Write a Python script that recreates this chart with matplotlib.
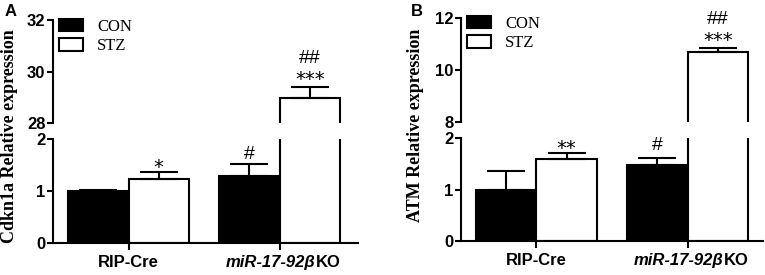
import matplotlib
matplotlib.use("Agg")
import matplotlib.pyplot as plt
from matplotlib.patches import Patch

groups = ["RIP-Cre", "miR-17-92βKO"]
series = ["CON", "STZ"]

# panel A: Cdkn1a
cdkn_con = [1.00, 1.29]
cdkn_con_err = [0.02, 0.23]
cdkn_stz = [1.24, 28.99]
cdkn_stz_err = [0.13, 0.40]
cdkn_marks_con = ["", "#"]
cdkn_marks_stz = ["*", "***"]
cdkn_marks_stz2 = ["", "##"]

# panel B: ATM
atm_con = [1.00, 1.48]
atm_con_err = [0.36, 0.14]
atm_stz = [1.59, 10.68]
atm_stz_err = [0.12, 0.15]
atm_marks_con = ["", "#"]
atm_marks_stz = ["**", "***"]
atm_marks_stz2 = ["", "##"]

SANS = "Liberation Sans"
SERIF = "Liberation Serif"
LW = 1.5
W = 0.4

fig = plt.figure(figsize=(7.65, 2.75), dpi=100)


def style(ax, bottom_spine):
    for s in ["top", "right"]:
        ax.spines[s].set_visible(False)
    ax.spines["left"].set_linewidth(LW)
    if bottom_spine:
        ax.spines["bottom"].set_linewidth(LW)
    else:
        ax.spines["bottom"].set_visible(False)
    ax.tick_params(axis="y", length=4.5, width=LW, pad=1, labelsize=12)
    for t in ax.get_yticklabels():
        t.set_fontfamily(SANS)
        t.set_fontweight("bold")


def mark(ax, x, y, txt, dy):
    if not txt:
        return
    fam = "DejaVu Sans" if "*" in txt else SANS
    ax.annotate(txt, (x, y), xytext=(0, dy), textcoords="offset points",
                ha="center", va="baseline", fontsize=14, family=fam,
                annotation_clip=False)


def panel(rect_top, rect_bot, con, con_err, stz, stz_err, top_lim, top_ticks,
          xlim, m_con, m_stz, m_stz2, ylabel, ylabel_pos, letter, letter_pos,
          leg_pos, offs):
    ax_t = fig.add_axes(rect_top)
    ax_b = fig.add_axes(rect_bot)
    x = [0, 1]
    for ax in (ax_t, ax_b):
        ax.bar([i - W / 2 for i in x], con, W, color="black", edgecolor="black",
               linewidth=LW)
        ax.bar([i + W / 2 for i in x], stz, W, color="white", edgecolor="black",
               linewidth=LW)
        ax.errorbar([i - W / 2 for i in x], con, yerr=[[0, 0], con_err], fmt="none",
                    ecolor="black", elinewidth=LW, capsize=13.5, capthick=LW)
        ax.errorbar([i + W / 2 for i in x], stz, yerr=[[0, 0], stz_err], fmt="none",
                    ecolor="black", elinewidth=LW, capsize=13.5, capthick=LW)
        ax.set_xlim(*xlim)
    ax_b.set_ylim(0, 2)
    ax_b.set_yticks([0, 1, 2])
    ax_t.set_ylim(*top_lim)
    ax_t.set_yticks(top_ticks)
    ax_t.set_xticks([])
    ax_b.set_xticks(x)
    ax_b.set_xticklabels(["", ""])
    ax_b.tick_params(axis="x", length=5, width=LW)
    style(ax_t, False)
    style(ax_b, True)

    # significance marks
    for i in x:
        tc = con[i] + con_err[i]
        ts = stz[i] + stz_err[i]
        ax_c = ax_b if con[i] <= 2 else ax_t
        ax_s = ax_b if stz[i] <= 2 else ax_t
        mark(ax_c, i - W / 2, tc, m_con[i], offs["#"] if ax_c is ax_b else 17.3)
        if ax_s is ax_b:
            mark(ax_s, i + W / 2, ts, m_stz[i], offs["*"])
        else:
            mark(ax_s, i + W / 2, ts, m_stz[i], 1.6)
            mark(ax_s, i + W / 2, ts, m_stz2[i], 17.4)

    # category labels
    ax_b.annotate(groups[0], (0, 0), xycoords=("data", "axes fraction"),
                  xytext=(0, -13.7), textcoords="offset points", ha="center",
                  va="center", fontsize=12, fontweight="bold", family=SANS)
    t1 = ax_b.annotate(groups[1][:-2], (1, 0), xycoords=("data", "axes fraction"),
                       xytext=(26, -13.7), textcoords="offset points", ha="right",
                       va="center", fontsize=12, fontweight="bold",
                       fontstyle="italic", family=SANS)
    ax_b.annotate(groups[1][-2:], (1, 0), xycoords=t1, ha="left", va="bottom",
                  fontsize=12, fontweight="bold", family=SANS)

    fig.text(ylabel_pos[0], ylabel_pos[1], ylabel, rotation=90, ha="center",
             va="center", fontsize=13, fontweight="bold", family=SERIF)
    fig.text(letter_pos[0], letter_pos[1], letter, ha="center", va="center",
             fontsize=12, fontweight="bold", family=SANS)

    handles = [Patch(facecolor="black", edgecolor="black", linewidth=LW),
               Patch(facecolor="white", edgecolor="black", linewidth=LW)]
    fig.legend(handles, series, loc="upper left", bbox_to_anchor=leg_pos,
               frameon=False, prop={"family": SERIF, "size": 12},
               handlelength=1.44, handleheight=0.78, handletextpad=0.84,
               labelspacing=0.2, borderpad=0, borderaxespad=0)


panel([0.0693, 0.5527, 0.3987, 0.3746], [0.0693, 0.1164, 0.3987, 0.3781],
      cdkn_con, cdkn_con_err, cdkn_stz, cdkn_stz_err, (28, 32), [28, 30, 32],
      (-0.5, 1.52), cdkn_marks_con, cdkn_marks_stz, cdkn_marks_stz2,
      "Cdkn1a Relative expression", (0.012, 0.505), "A", (0.014, 0.96),
      (0.0771, 0.932), {"#": 3.7, "*": -0.9})

panel([0.6026, 0.5564, 0.3948, 0.3781], [0.6026, 0.1236, 0.3948, 0.3745],
      atm_con, atm_con_err, atm_stz, atm_stz_err, (8, 12), [8, 10, 12],
      (-0.5, 1.5), atm_marks_con, atm_marks_stz, atm_marks_stz2,
      "ATM Relative expression", (0.5425, 0.545), "B", (0.545, 0.96),
      (0.6105, 0.943), {"#": 5.6, "*": -0.9})

fig.savefig("out.png", dpi=100)
